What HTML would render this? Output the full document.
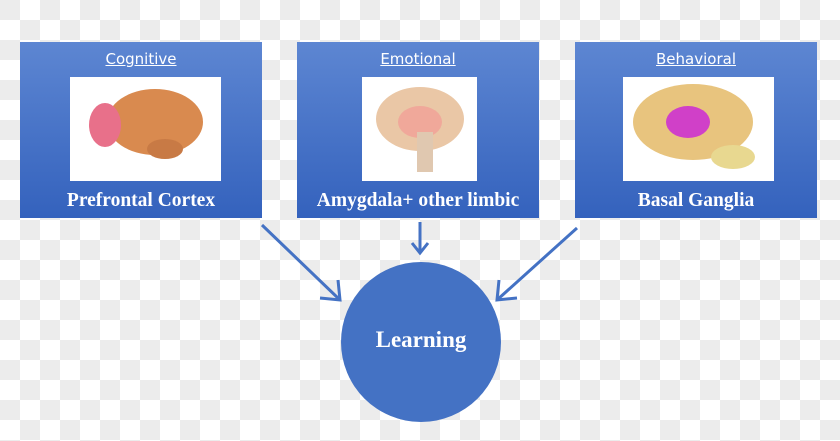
<!DOCTYPE html>
<html><head><meta charset="utf-8"><style>
body{margin:0;width:840px;height:441px;overflow:hidden;
background-color:#fff;
background-image:linear-gradient(45deg,#ececec 25%,transparent 25%,transparent 75%,#ececec 75%),linear-gradient(45deg,#ececec 25%,transparent 25%,transparent 75%,#ececec 75%);
background-size:40px 40px;background-position:20px 0,0 20px;position:relative}
.box{position:absolute;top:42px;width:242px;height:176px;background:linear-gradient(#5d86d2,#3462bd)}
.t{position:absolute;top:8px;width:100%;text-align:center;color:#fff;font:15px "DejaVu Sans",sans-serif;text-decoration:underline}
.img{position:absolute;left:50px;top:35px;width:151px;height:104px;background:#fff;overflow:hidden}
.l{position:absolute;top:148px;width:100%;text-align:center;color:#fff;font:bold 19.5px "Liberation Serif",serif}
</style></head><body>
<div class="box" style="left:20px"><div class="t">Cognitive</div>
<div class="img"><svg width="151" height="104"><ellipse cx="85" cy="45" rx="48" ry="33" fill="#d98a4f"/><ellipse cx="35" cy="48" rx="16" ry="22" fill="#e8708a"/><ellipse cx="95" cy="72" rx="18" ry="10" fill="#c87a45"/></svg></div>
<div class="l">Prefrontal Cortex</div></div>
<div class="box" style="left:297px"><div class="t">Emotional</div>
<div class="img" style="left:65px;width:115px"><svg width="115" height="104"><ellipse cx="58" cy="42" rx="44" ry="32" fill="#eac7a6"/><ellipse cx="58" cy="45" rx="22" ry="16" fill="#f0a89a"/><rect x="55" y="55" width="16" height="40" fill="#e0c8b0"/></svg></div>
<div class="l">Amygdala+ other limbic</div></div>
<div class="box" style="left:575px"><div class="t">Behavioral</div>
<div class="img" style="left:48px"><svg width="151" height="104"><ellipse cx="70" cy="45" rx="60" ry="38" fill="#e8c47e"/><ellipse cx="65" cy="45" rx="22" ry="16" fill="#d040c8"/><ellipse cx="110" cy="80" rx="22" ry="12" fill="#e8d890"/></svg></div>
<div class="l">Basal Ganglia</div></div>
<svg style="position:absolute;left:0;top:0" width="840" height="441">
<g stroke="#4472c4" stroke-width="3" fill="none">
<line x1="262" y1="225" x2="340" y2="300"/><polyline points="320,298 340,300 338,280"/>
<line x1="420" y1="222" x2="420" y2="252"/><polyline points="412,243 420,253 428,243"/>
<line x1="577" y1="228" x2="497" y2="300"/><polyline points="499,280 497,300 517,298"/>
</g>
<circle cx="421" cy="342" r="80" fill="#4472c4"/>
<text x="421" y="347" text-anchor="middle" fill="#fff" font-family="Liberation Serif,serif" font-weight="bold" font-size="23">Learning</text>
</svg>
</body></html>
